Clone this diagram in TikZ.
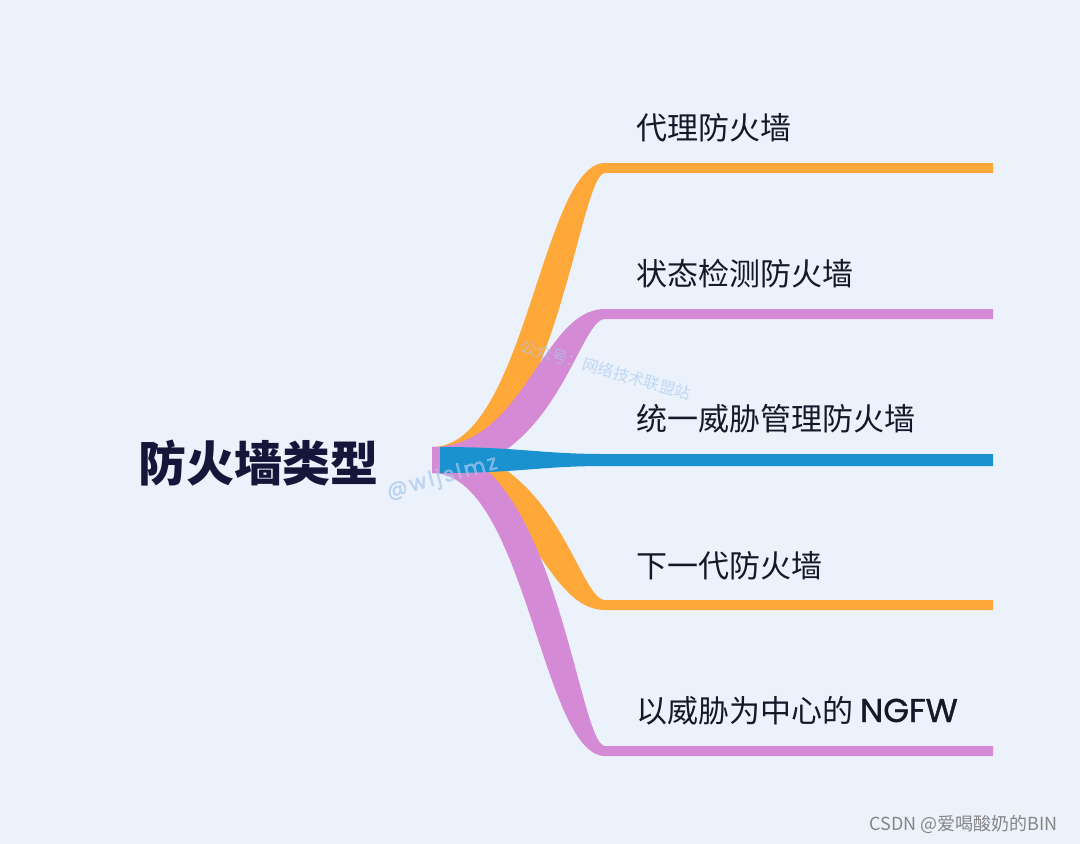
\documentclass[tikz,border=0pt]{standalone}
\usepackage{fontspec}
\setmainfont{Noto Sans CJK SC}
\newfontfamily\pop{Poppins}[FakeBold=1.2]
\newfontfamily\popwm{Poppins}[LetterSpace=12,FakeBold=2]
\definecolor{bg}{HTML}{EBF2FC}
\definecolor{brorange}{HTML}{FFA83A}
\definecolor{brpink}{HTML}{D48AD4}
\definecolor{brblue}{HTML}{1A92D0}
\definecolor{labeltext}{HTML}{17172A}
\definecolor{roottext}{HTML}{15163A}
\definecolor{wmblue}{HTML}{A9C9EE}
\definecolor{csdngray}{HTML}{858585}
% #1 colour, #2 target y, #3 direction (-1 up, 1 down, 0 straight)
\newcommand\mmbranch[3]{%
  \fill[#1] (432,447) .. controls ({540+#3*15},447) and ({560+#3*18},{#2-5}) .. (605,{#2-5})
    -- (993,{#2-5}) -- (993,{#2+5}) -- (605,{#2+5})
    .. controls ({560-#3*18},{#2+5}) and ({540-#3*15},473) .. (432,473) -- cycle;}
\begin{document}
\begin{tikzpicture}[x=1pt,y=-1pt,
  leaf/.style={anchor=base west,inner sep=0pt,text=labeltext,font=\fontsize{31}{31}\selectfont},
  rootlabel/.style={anchor=base west,inner sep=0pt,text=roottext,font=\bfseries\fontsize{48}{48}\selectfont},
  watermark/.style={inner sep=0pt,text=wmblue,opacity=0.65}]
\fill[bg] (0,0) rectangle (1080,844);
\useasboundingbox (0,0) rectangle (1080,844);
% branches
\mmbranch{brorange}{168}{-1}
\mmbranch{brpink}{314}{-1}
\mmbranch{brorange}{605}{1}
\mmbranch{brpink}{751}{1}
\fill[brblue] (440,447) .. controls (520,447) and (540,454) .. (605,454) -- (993,454)
  -- (993,466) -- (605,466) .. controls (540,466) and (520,473) .. (440,473) -- cycle;
% texts
\node[rootlabel] (root) at (138,481) {防火墙类型};
\node[leaf] (l1) at (636,139) {代理防火墙};
\node[leaf] (l2) at (636,285) {状态检测防火墙};
\node[leaf] (l3) at (636,430) {统一威胁管理防火墙};
\node[leaf] (l4) at (636,577) {下一代防火墙};
\node[leaf] (l5) at (636,722) {以威胁为中心的 {\pop\fontsize{33}{33}\selectfont NGFW}};
% watermarks
\node[watermark,rotate=15,font=\popwm\fontsize{21}{21}\selectfont] (wm1) at (442,478) {@wljslmz};
\node[watermark,rotate=-16,font=\fontsize{16}{16}\selectfont] (wm2) at (606,370) {公众号：网络技术联盟站};
\node[anchor=east,inner sep=0pt,text=csdngray,font=\fontsize{18}{18}\selectfont] (csdn) at (1058,824) {CSDN @爱喝酸奶的BIN};
\end{tikzpicture}
\end{document}
